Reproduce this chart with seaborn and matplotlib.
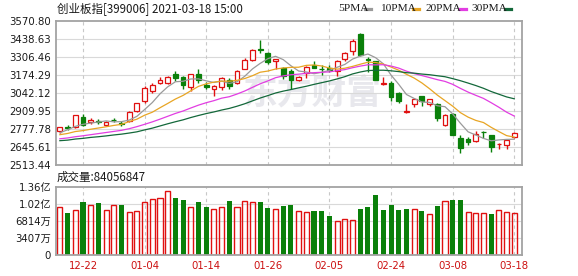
import numpy as np
import pandas as pd
import matplotlib
matplotlib.use("Agg")
import matplotlib.pyplot as plt
from matplotlib.lines import Line2D
import seaborn as sns

# ---------------- data ----------------
dates = ["12-17", "12-18", "12-21", "12-22", "12-23", "12-24", "12-25", "12-28", "12-29", "12-30",
         "12-31", "01-04", "01-05", "01-06", "01-07", "01-08", "01-11", "01-12", "01-13", "01-14",
         "01-15", "01-18", "01-19", "01-20", "01-21", "01-22", "01-25", "01-26", "01-27", "01-28",
         "01-29", "02-01", "02-02", "02-03", "02-04", "02-05", "02-08", "02-09", "02-10", "02-18",
         "02-19", "02-22", "02-23", "02-24", "02-25", "02-26", "03-01", "03-02", "03-03", "03-04",
         "03-05", "03-08", "03-09", "03-10", "03-11", "03-12", "03-15", "03-16", "03-17", "03-18"]

opens = [2761, 2793, 2790, 2864, 2826, 2836, 2807, 2846, 2824, 2838, 2912, 2981, 3054, 3118, 3116,
         3181, 3157, 3084, 3181, 3100, 3074, 3084, 3140, 3116, 3221, 3287, 3365, 3336, 3275, 3226,
         3206, 3135, 3189, 3250, 3222, 3224, 3206, 3294, 3353, 3475, 3292, 3275, 3106, 3116, 3042,
         2905, 2958, 3020, 2958, 2961, 2805, 2888, 2712, 2704, 2688, 2758, 2731, 2665, 2658, 2719]
highs = [2795, 2805, 2882, 2888, 2855, 2848, 2834, 2858, 2840, 2912, 2972, 3094, 3113, 3160, 3168,
         3201, 3168, 3185, 3215, 3123, 3098, 3160, 3152, 3213, 3299, 3367, 3433, 3345, 3293, 3234,
         3216, 3170, 3238, 3276, 3249, 3245, 3285, 3345, 3441, 3485, 3303, 3280, 3157, 3128, 3050,
         2961, 3008, 3022, 3000, 2968, 2890, 2893, 2737, 2722, 2765, 2760, 2736, 2673, 2705, 2756]
lows = [2748, 2771, 2786, 2797, 2812, 2818, 2800, 2830, 2800, 2830, 2905, 2967, 3039, 3106, 3109,
        3128, 3071, 3059, 3116, 3068, 3022, 3067, 3068, 3106, 3215, 3280, 3336, 3258, 3218, 3147,
        3070, 3128, 3150, 3224, 3175, 3195, 3165, 3280, 3319, 3311, 3199, 3137, 3100, 2981, 2968,
        2893, 2940, 2950, 2945, 2839, 2797, 2731, 2603, 2662, 2680, 2715, 2612, 2632, 2634, 2712]
closes = [2790, 2787, 2878, 2809, 2842, 2828, 2830, 2842, 2817, 2899, 2966, 3079, 3098, 3137, 3157,
          3152, 3098, 3181, 3140, 3086, 3091, 3152, 3093, 3201, 3287, 3360, 3355, 3267, 3289, 3165,
          3135, 3162, 3231, 3226, 3215, 3208, 3275, 3336, 3422, 3323, 3285, 3140, 3112, 3010, 2981,
          2912, 2996, 2980, 2996, 2858, 2878, 2731, 2638, 2680, 2741, 2754, 2643, 2670, 2699, 2748]
volumes = [96200000, 84200000, 89500000, 106200000, 100200000, 104200000, 90200000, 100200000,
           100200000, 86200000, 88200000, 106200000, 112200000, 114200000, 128300000, 114900000,
           110200000, 96200000, 106200000, 96900000, 92200000, 96200000, 108200000, 96200000,
           107500000, 105600000, 106200000, 94900000, 92200000, 98200000, 100200000, 87500000,
           86200000, 88200000, 88200000, 78200000, 67500000, 71500000, 69500000, 92200000,
           96200000, 120200000, 90200000, 100200000, 90200000, 92200000, 92200000, 88200000,
           81500000, 98200000, 108200000, 110200000, 110200000, 86200000, 84200000, 84200000,
           82200000, 89500000, 86200000, 84056847]

# moving-average values at the left edge (they depend on days before the window)
ma5_head = [2750, 2772, 2797, 2812]
ma10_head = [2736, 2745, 2759, 2766, 2776, 2785, 2794, 2804, 2812]
ma20_head = [2706, 2712, 2721, 2728, 2736, 2744, 2752, 2760, 2768, 2780, 2795, 2812, 2830, 2850,
             2871, 2892, 2910, 2932, 2953]
ma30_head = [2692, 2696, 2704, 2709, 2716, 2721, 2727, 2734, 2740, 2748, 2757, 2771, 2784, 2800,
             2816, 2831, 2845, 2862, 2877, 2891, 2903, 2917, 2929, 2945, 2963, 2984, 3005, 3023, 3042]

price_ticks = [2513.44, 2645.61, 2777.78, 2909.95, 3042.12, 3174.29, 3306.46, 3438.63, 3570.80]
vol_ticks = [0, 34070000, 68140000, 102210000, 136280000]
vol_tick_labels = ["0", "3407万", "6814万", "1.02亿", "1.36亿"]
x_tick_labels = ["12-22", "01-04", "01-14", "01-26", "02-05", "02-24", "03-08", "03-18"]

title = "创业板指[399006] 2021-03-18 15:00"
vol_title = "成交量:84056847"
ma_names = ["5PMA", "10PMA", "20PMA", "30PMA"]

# ---------------- style ----------------
RED = "#e01010"
GREEN = "#0a800a"
MA_COLORS = ["#9a9a9a", "#e8a524", "#e23de2", "#13683a"]
GRID = "#d9d9d9"
FRAME = "#a3a3a3"
CJK = ["DejaVu Sans", "Noto Sans CJK SC"]

W, H = 578, 276
fig = plt.figure(figsize=(W / 100, H / 100), dpi=100)
fig.patch.set_facecolor("white")


def fx(px):
    return px / W


def fy(py):
    return 1 - py / H


ax = fig.add_axes([fx(56), fy(165), fx(522) - fx(56), fy(21) - fy(165)])
axv = fig.add_axes([fx(56), fy(255), fx(522) - fx(56), fy(187) - fy(255)])

n = len(dates)
x = np.arange(n)
o = np.array(opens, float)
h = np.array(highs, float)
l = np.array(lows, float)
c = np.array(closes, float)
up = c > o
cols = np.where(up, RED, GREEN)

# watermark
ax.text(0.55, 0.50, "东方财富", transform=ax.transAxes, fontsize=25, fontweight="bold",
        family=["Noto Sans CJK SC"], color="#e8e8ed", ha="center", va="center", zorder=0)

# candlesticks
ax.vlines(x, l, h, colors=cols, linewidth=1, zorder=2)
body_bot = np.minimum(o, c)
body_h = np.maximum(np.abs(c - o), 1.0)
ax.bar(x, body_h, bottom=body_bot, width=0.62,
       color=np.where(up, "white", GREEN), edgecolor=cols, linewidth=0.9, zorder=3)

# moving averages
cs = pd.Series(c)
mas = []
for win, head in zip([5, 10, 20, 30], [ma5_head, ma10_head, ma20_head, ma30_head]):
    m = cs.rolling(win).mean().to_numpy()
    m[:len(head)] = head
    mas.append(m)
for m, col in zip(mas, MA_COLORS):
    sns.lineplot(x=x, y=m, ax=ax, color=col, linewidth=0.9, zorder=4)

# volume
prev = np.concatenate([[o[0]], c[:-1]])
vdir = np.where(c >= prev, "up", "down")
vdf = pd.DataFrame({"date": dates, "vol": volumes, "dir": vdir})
sns.barplot(data=vdf[vdf["dir"] == "up"], x="date", y="vol", order=dates, color=RED,
            fill=False, saturation=1, width=0.66, linewidth=1, errorbar=None, ax=axv)
sns.barplot(data=vdf[vdf["dir"] == "down"], x="date", y="vol", order=dates, color=GREEN,
            saturation=1, width=0.66, linewidth=0, errorbar=None, ax=axv)

tick_pos = [dates.index(t) for t in x_tick_labels]
for a in (ax, axv):
    a.set_xlim(-0.5, n)
    a.set_xlabel("")
    a.set_ylabel("")
    a.set_xticks(tick_pos)
    a.grid(False)
    for s in a.spines.values():
        s.set_color(FRAME)
        s.set_linewidth(1.3)
    for t in tick_pos:
        a.axvline(t, color="#c8c8c8", linewidth=0.8, linestyle=(0, (3, 3)), zorder=0.5)
    a.tick_params(length=0, pad=3.5, labelsize=7.3, labelcolor="#1a1a1a")
    a.set_facecolor("white")

ax.set_ylim(price_ticks[0], price_ticks[-1])
ax.set_yticks(price_ticks)
ax.set_yticklabels([f"{v:.2f}" for v in price_ticks])
ax.set_xticklabels([])
for v in price_ticks[1:-1]:
    ax.axhline(v, color=GRID, linewidth=0.8, zorder=0.4)

axv.set_ylim(vol_ticks[0], vol_ticks[-1])
axv.set_yticks(vol_ticks)
axv.set_yticklabels(vol_tick_labels, family=CJK)
axv.set_xticklabels(x_tick_labels, color="#cc1010")
axv.tick_params(axis="x", pad=4)
for v in vol_ticks[1:-1]:
    axv.axhline(v, color=GRID, linewidth=0.8, zorder=0.4)

# titles
fig.text(fx(57), fy(9), title, family=["Noto Sans CJK SC", "DejaVu Sans"], fontsize=8.3,
         color="#1a1a1a", ha="left", va="center")
fig.text(fx(57), fy(177), vol_title, family=["Noto Sans CJK SC", "DejaVu Sans"], fontsize=8.3,
         color="#1a1a1a", ha="left", va="center")

# MA legend
leg_text_x = [338, 380, 426, 471]
leg_dash_x = [365, 413, 460, 505]
for name, col, tx, dx in zip(ma_names, MA_COLORS, leg_text_x, leg_dash_x):
    fig.text(fx(tx), fy(8.5), name, family=["Liberation Serif"], fontsize=8.2,
             color="#1a1a1a", ha="left", va="center")
    fig.add_artist(Line2D([fx(dx), fx(dx + 6)], [fy(9), fy(9)], color=col, linewidth=2.3,
                          transform=fig.transFigure))

fig.savefig("out.png", dpi=100, facecolor="white")
